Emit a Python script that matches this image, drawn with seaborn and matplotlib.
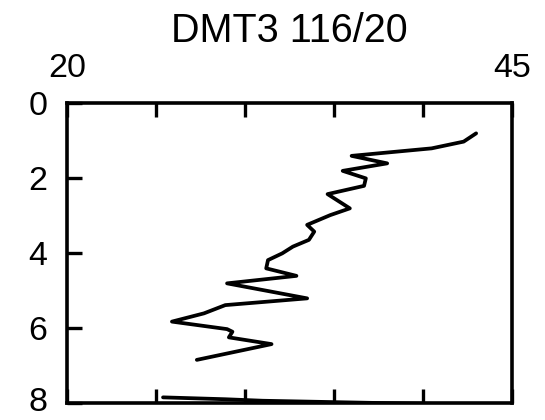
import numpy as np
import pandas as pd
import matplotlib
matplotlib.use("Agg")
import matplotlib.pyplot as plt
from matplotlib.transforms import ScaledTranslation
import seaborn as sns

# Depth profile (depth in m, measured value), two separate runs
depth_upper = [0.81, 1.03, 1.21, 1.41, 1.61, 1.81, 2.01, 2.21, 2.43, 2.81,
               2.99, 3.25, 3.43, 3.65, 3.83, 4.01, 4.19, 4.41, 4.61, 4.81,
               5.21, 5.39, 5.61, 5.83, 6.03, 6.10, 6.25, 6.43, 6.85]
value_upper = [43.0, 42.3, 40.5, 36.0, 38.0, 35.5, 36.8, 36.7, 34.65, 35.9,
               34.8, 33.5, 33.9, 33.6, 32.7, 32.1, 31.3, 31.2, 32.9, 29.0,
               33.5, 28.9, 27.7, 25.9, 29.0, 29.3, 29.1, 31.5, 27.3]
depth_lower = [7.85, 7.90, 7.94, 8.00, 8.05]
value_lower = [25.4, 28.9, 31.0, 37.5, 44.0]

title = "DMT3 116/20"
x_ticks = [20, 25, 30, 35, 40, 45]
x_labels = ["20", "", "", "", "", "45"]
y_ticks = [0, 2, 4, 6, 8]
y_labels = ["0", "2", "4", "6", "8"]

df = pd.DataFrame({
    "depth": depth_upper + depth_lower,
    "value": value_upper + value_lower,
    "run": ["upper"] * len(depth_upper) + ["lower"] * len(depth_lower),
})

sns.set_style("white")
plt.rcParams["font.family"] = ["Liberation Sans", "DejaVu Sans"]

fig = plt.figure(figsize=(5.45, 4.2), dpi=100)
ax = fig.add_axes([0.1229, 0.0405, 0.9389 - 0.1229, 0.7548 - 0.0405])

sns.lineplot(data=df, x="value", y="depth", units="run", estimator=None,
             sort=False, color="black", linewidth=2.7, ax=ax, legend=False)

ax.set_xlim(20, 45)
ax.set_ylim(8, 0)
ax.set_xticks(x_ticks)
ax.set_xticklabels(x_labels)
ax.set_yticks(y_ticks)
ax.set_yticklabels(y_labels)
ax.set_xlabel("")
ax.set_ylabel("")

ax.tick_params(axis="x", which="both", direction="in", top=True, bottom=True,
               labeltop=True, labelbottom=False, length=10, width=2.4,
               pad=14, labelsize=24.5, color="black", labelcolor="black")
ax.tick_params(axis="y", which="both", direction="in", left=True, right=False,
               labelleft=True, length=11, width=2.4, pad=14, labelsize=24.5,
               color="black", labelcolor="black")

# nudge the lowest depth label up so it stays inside the canvas
bottom_label = ax.yaxis.get_major_ticks()[-1].label1
bottom_label.set_transform(bottom_label.get_transform()
                           + ScaledTranslation(0, 0.04, fig.dpi_scale_trans))

for s in ax.spines.values():
    s.set_visible(True)
    s.set_color("black")
    s.set_linewidth(2.6)

fig.text(0.530, 1 - 41.7 / 420, title, ha="center", va="baseline",
         fontsize=28.5, color="black")

fig.savefig("out.png", dpi=100, facecolor="white")
